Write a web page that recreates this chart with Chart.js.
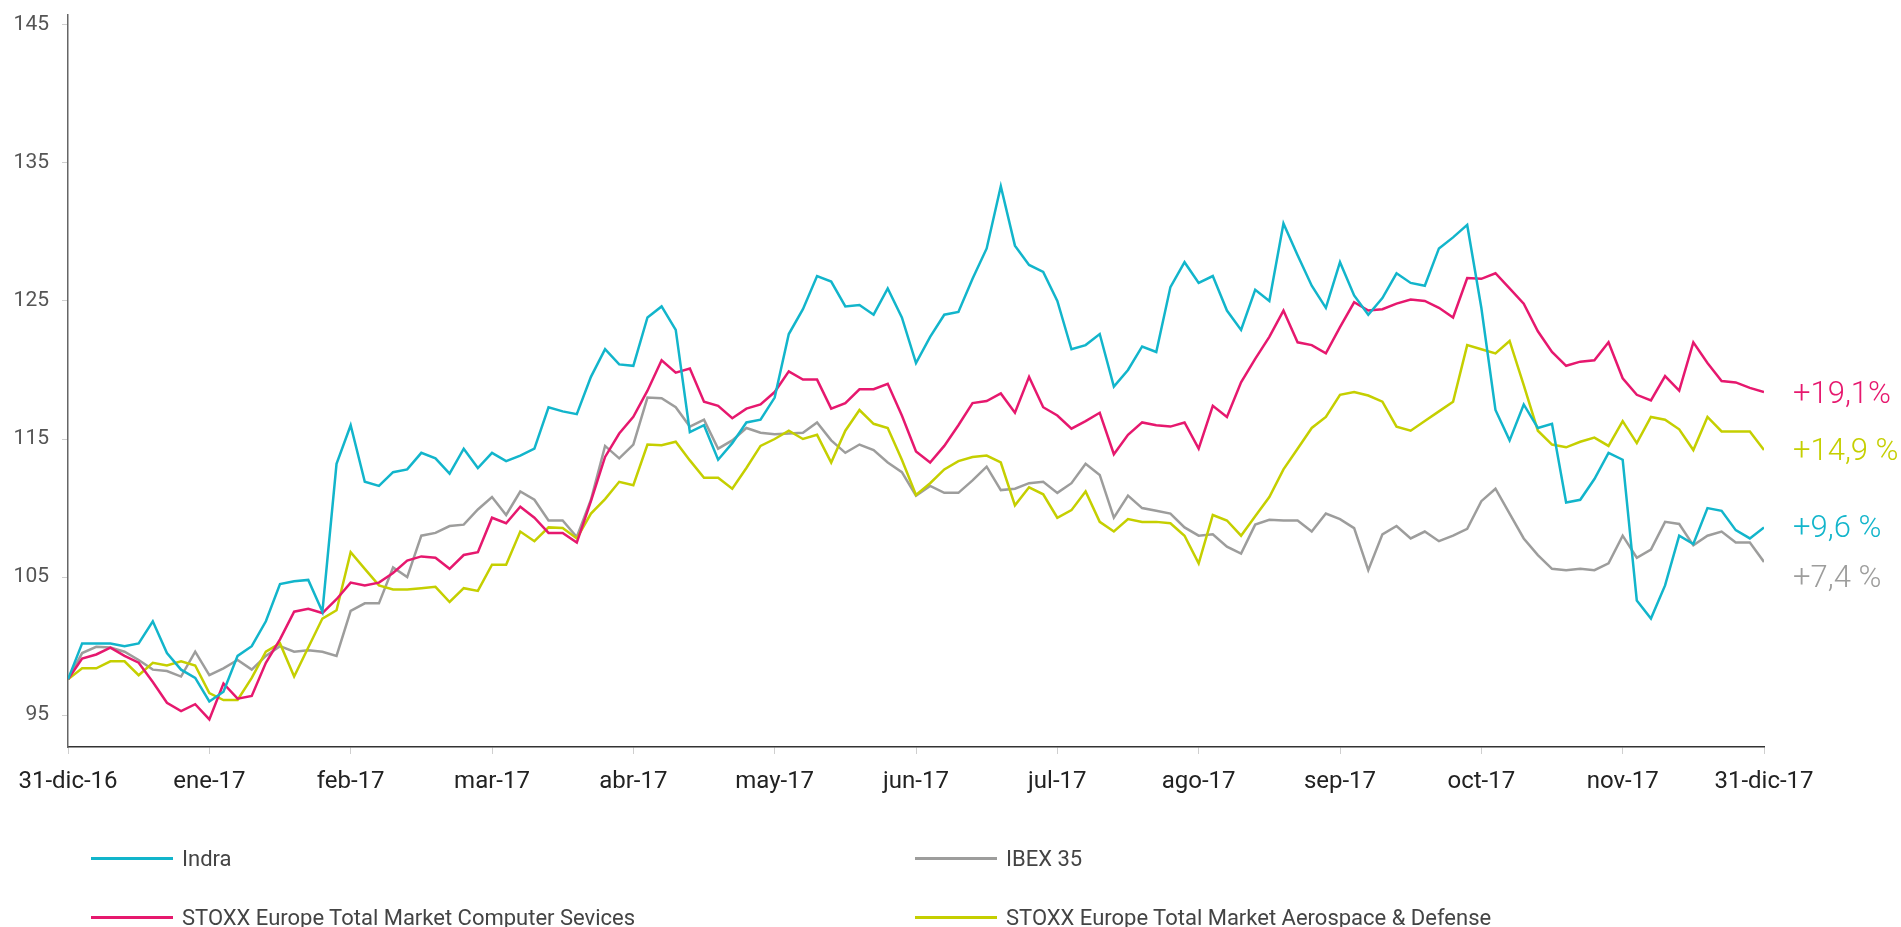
<!DOCTYPE html>
<html>
<head>
<meta charset="UTF-8">
<title>Indra vs índices 2017</title>
<script src="https://cdn.jsdelivr.net/npm/chart.js@4.4.1/dist/chart.umd.min.js"></script>
<style>
  body { margin: 0; background: #fff; font-family: Roboto, "Open Sans", sans-serif; }
  #wrap { position: relative; width: 1901px; height: 927px; }
  #myChart { position: absolute; left: 0; top: 0; }
  .leg { position: absolute; height: 30px; display: flex; align-items: center; font-size: 22px; color: #444; white-space: nowrap; }
  .leg span.sw { display: inline-block; width: 82px; height: 3px; margin-right: 9px; }
  .endlbl { position: absolute; left: 1793px; height: 40px; line-height: 40px; font-size: 31px; font-weight: 300; white-space: nowrap; }
</style>
</head>
<body>
<div id="wrap">
  <canvas id="myChart" width="1901" height="927"></canvas>

  <div class="leg" style="left:91px; top:843px;"><span class="sw" style="background:#12b5cb"></span>Indra</div>
  <div class="leg" style="left:915px; top:843px;"><span class="sw" style="background:#9d9d9c"></span>IBEX 35</div>
  <div class="leg" style="left:91px; top:902px;"><span class="sw" style="background:#e6186e"></span>STOXX Europe Total Market Computer Sevices</div>
  <div class="leg" style="left:915px; top:902px;"><span class="sw" style="background:#c5cf00"></span>STOXX Europe Total Market Aerospace &amp; Defense</div>

  <div class="endlbl" style="top:373px; color:#e6186e">+19,1%</div>
  <div class="endlbl" style="top:430px; color:#c5cf00">+14,9 %</div>
  <div class="endlbl" style="top:507px; color:#12b5cb">+9,6 %</div>
  <div class="endlbl" style="top:557px; color:#9d9d9c">+7,4 %</div>
</div>

<script>
// month-end labels on the x axis (equal spacing)
var monthLabels = ['31-dic-16','ene-17','feb-17','mar-17','abr-17','may-17','jun-17','jul-17','ago-17','sep-17','oct-17','nov-17','31-dic-17'];
var yTicks = [95, 105, 115, 125, 135, 145];
var pointsPerMonth = 10; // values read every 1/10 of a month

// base 100 = 31-dic-16
var indra = [97.6,100.2,100.2,100.2,100.0,100.2,101.8,99.5,98.3,97.7,
  96.0,96.7,99.3,100.0,101.8,104.5,104.7,104.8,102.5,113.2,
  116.0,111.9,111.6,112.6,112.8,114.0,113.6,112.5,114.3,112.9,
  114.0,113.4,113.8,114.3,117.3,117.0,116.8,119.5,121.5,120.4,
  120.3,123.8,124.6,122.9,115.5,116.0,113.5,114.7,116.2,116.4,
  118.0,122.6,124.4,126.8,126.4,124.6,124.7,124.0,125.9,123.8,
  120.5,122.4,124.0,124.2,126.6,128.8,133.3,129.0,127.6,127.1,
  125.0,121.5,121.8,122.6,118.8,120.0,121.7,121.3,126.0,127.8,
  126.3,126.8,124.3,122.9,125.8,125.0,130.6,128.3,126.1,124.5,
  127.8,125.4,124.0,125.2,127.0,126.3,126.1,128.8,129.6,130.5,
  124.5,117.1,114.9,117.5,115.8,116.1,110.4,110.6,112.1,114.0,
  113.5,103.3,102.0,104.4,108.0,107.4,110.0,109.8,108.4,107.8,108.6];

var ibex = [97.6,99.5,99.95,99.9,99.6,99.0,98.3,98.2,97.8,99.6,
  97.9,98.4,99.0,98.3,99.3,100.0,99.6,99.7,99.6,99.3,
  102.55,103.1,103.1,105.7,105.0,108.0,108.2,108.7,108.8,109.9,
  110.8,109.5,111.2,110.6,109.1,109.1,107.9,110.6,114.5,113.6,
  114.6,118.0,117.95,117.3,115.9,116.4,114.3,114.9,115.8,115.45,
  115.35,115.4,115.45,116.2,114.9,114.0,114.6,114.2,113.3,112.6,
  110.9,111.6,111.1,111.1,112.0,113.0,111.3,111.4,111.8,111.9,
  111.1,111.8,113.2,112.4,109.3,110.9,110.0,109.8,109.6,108.6,
  108.0,108.1,107.2,106.7,108.8,109.15,109.1,109.1,108.3,109.6,
  109.2,108.55,105.5,108.1,108.7,107.8,108.3,107.6,108.0,108.5,
  110.5,111.4,109.6,107.8,106.6,105.6,105.5,105.6,105.5,106.0,
  108.0,106.4,107.0,109.0,108.85,107.3,108.0,108.3,107.5,107.5,106.1];

var computerServices = [97.6,99.1,99.4,99.9,99.3,98.8,97.4,95.9,95.3,95.8,
  94.7,97.3,96.2,96.4,98.8,100.5,102.5,102.7,102.4,103.4,
  104.6,104.4,104.6,105.3,106.2,106.5,106.4,105.6,106.6,106.8,
  109.3,108.9,110.1,109.3,108.2,108.2,107.5,110.5,113.7,115.4,
  116.6,118.5,120.7,119.8,120.1,117.7,117.4,116.5,117.2,117.5,
  118.4,119.9,119.3,119.3,117.2,117.6,118.6,118.6,119.0,116.7,
  114.1,113.3,114.5,116.0,117.6,117.75,118.3,116.9,119.5,117.3,
  116.7,115.75,116.3,116.9,113.9,115.3,116.2,116.0,115.9,116.2,
  114.3,117.4,116.6,119.1,120.8,122.4,124.3,122.0,121.8,121.2,
  123.1,124.9,124.3,124.4,124.8,125.1,125.0,124.5,123.8,126.65,
  126.6,127.0,125.9,124.8,122.8,121.3,120.3,120.6,120.7,122.0,
  119.4,118.2,117.8,119.55,118.5,122.0,120.5,119.2,119.1,118.7,118.4];

var aerospaceDefense = [97.6,98.4,98.4,98.9,98.9,97.9,98.8,98.6,98.9,98.6,
  96.6,96.1,96.1,97.7,99.6,100.2,97.8,99.9,102.0,102.6,
  106.8,105.6,104.4,104.1,104.1,104.2,104.3,103.2,104.2,104.0,
  105.9,105.9,108.3,107.6,108.6,108.55,107.8,109.6,110.65,111.9,
  111.65,114.6,114.55,114.8,113.45,112.2,112.2,111.4,112.9,114.5,
  115.0,115.6,115.0,115.3,113.3,115.6,117.1,116.1,115.8,113.5,
  110.95,111.8,112.8,113.4,113.7,113.8,113.3,110.2,111.5,111.0,
  109.3,109.85,111.2,109.0,108.3,109.2,109.0,109.0,108.9,108.0,
  106.0,109.5,109.1,108.0,109.4,110.8,112.8,114.3,115.8,116.6,
  118.2,118.4,118.15,117.7,115.9,115.6,116.3,117.0,117.7,121.8,
  121.5,121.2,122.1,118.9,115.6,114.6,114.4,114.8,115.1,114.5,
  116.3,114.7,116.6,116.4,115.7,114.2,116.6,115.55,115.55,115.55,114.2];

function toPoints(values) {
  return values.map(function (v, i) { return { x: i / pointsPerMonth, y: v }; });
}

function serie(label, values, color) {
  return {
    label: label,
    data: toPoints(values),
    borderColor: color,
    backgroundColor: color,
    borderWidth: 2.5,
    pointRadius: 0,
    tension: 0,
    fill: false
  };
}

var config = {
  type: 'line',
  data: {
    datasets: [
      serie('Indra', indra, '#12b5cb'),
      serie('STOXX Europe Total Market Computer Sevices', computerServices, '#e6186e'),
      serie('STOXX Europe Total Market Aerospace & Defense', aerospaceDefense, '#c5cf00'),
      serie('IBEX 35', ibex, '#9d9d9c')
    ]
  },
  options: {
    responsive: false,
    animation: false,
    layout: { padding: { left: 0, right: 137, top: 15, bottom: 120 } },
    plugins: { legend: { display: false }, tooltip: { enabled: false } },
    scales: {
      x: {
        type: 'linear',
        min: 0,
        max: 12,
        afterFit: function (s) { s.height = 60; },
        border: { display: true, color: '#333', width: 1.5 },
        grid: { drawOnChartArea: false, drawTicks: true, tickLength: 7, color: '#cfcfcf' },
        ticks: {
          stepSize: 1,
          autoSkip: false,
          maxRotation: 0,
          padding: 14,
          color: '#222',
          font: { family: 'Roboto', size: 24 },
          callback: function (v) { return monthLabels[v]; }
        }
      },
      y: {
        min: 92.7,
        max: 145.7,
        afterFit: function (s) { s.width = 68; s.paddingTop = 0; s.paddingBottom = 0; },
        afterBuildTicks: function (axis) { axis.ticks = yTicks.map(function (v) { return { value: v }; }); },
        border: { display: true, color: '#666', width: 1.5 },
        grid: { drawOnChartArea: false, drawTicks: true, tickLength: 6, color: '#cfcfcf' },
        ticks: {
          padding: 13,
          color: '#555',
          font: { family: 'Roboto', size: 21 }
        }
      }
    }
  }
};

var ctx = document.getElementById('myChart').getContext('2d');
var myChart = new Chart(ctx, config);
</script>
</body>
</html>
